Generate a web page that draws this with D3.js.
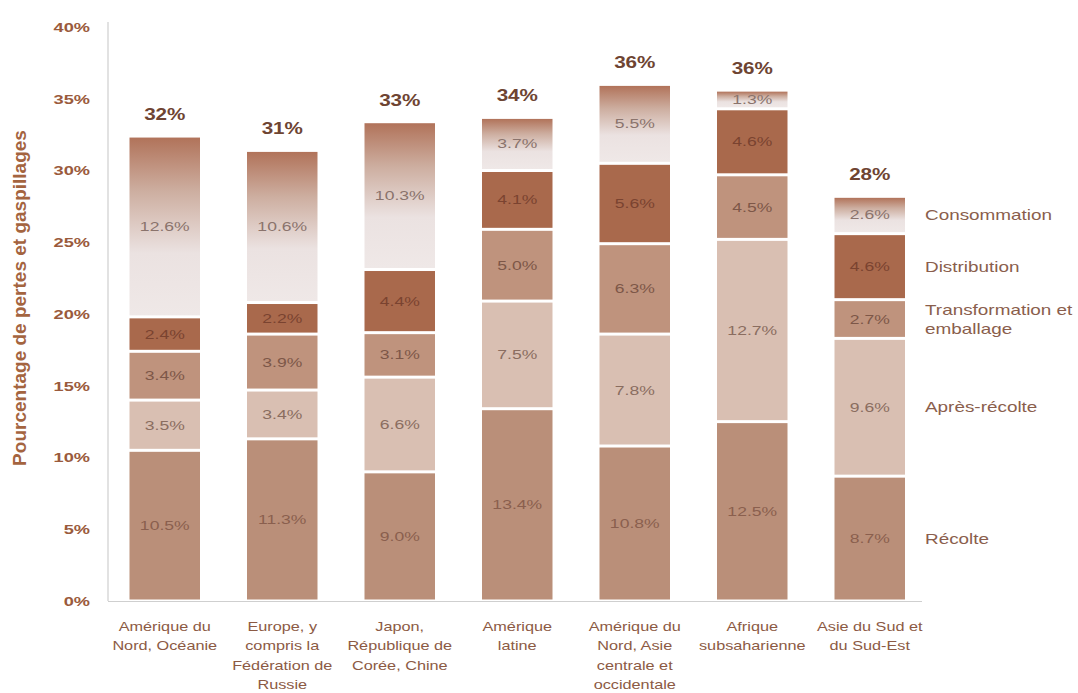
<!DOCTYPE html>
<html><head><meta charset="utf-8">
<script src="https://cdn.jsdelivr.net/npm/d3@7"></script>
<style>body{margin:0;background:#fff;}svg{display:block;font-family:"Liberation Sans",Arial,sans-serif;}</style>
</head><body><svg id="c" width="1078" height="693"></svg>
<script>
const categories = [
  ["Amérique du","Nord, Océanie"],
  ["Europe, y","compris la","Fédération de","Russie"],
  ["Japon,","République de","Corée, Chine"],
  ["Amérique","latine"],
  ["Amérique du","Nord, Asie","centrale et","occidentale"],
  ["Afrique","subsaharienne"],
  ["Asie du Sud et","du Sud-Est"]
];
const stages = ["Récolte","Après-récolte","Transformation et emballage","Distribution","Consommation"];
const stageLabels = [["Récolte"],["Après-récolte"],["Transformation et","emballage"],["Distribution"],["Consommation"]];
const recolte      = [10.5, 11.3, 9.0, 13.4, 10.8, 12.5, 8.7];
const apresRecolte = [3.5, 3.4, 6.6, 7.5, 7.8, 12.7, 9.6];
const transformation = [3.4, 3.9, 3.1, 5.0, 6.3, 4.5, 2.7];
const distribution = [2.4, 2.2, 4.4, 4.1, 5.6, 4.6, 4.6];
const consommation = [12.6, 10.6, 10.3, 3.7, 5.5, 1.3, 2.6];
const totals = ["32%","31%","33%","34%","36%","36%","28%"];
const yTicks = [0,5,10,15,20,25,30,35,40];

(function(){
const SX = 1.35; // horizontal stretch of the original picture's text
const series = [recolte, apresRecolte, transformation, distribution, consommation];
const rows = categories.map((c,i)=>{
  const r = {idx:i};
  stages.forEach((s,k)=> r[s]=series[k][i]);
  return r;
});
const stacked = d3.stack().keys(stages)(rows);

const svg = d3.select("#c");
const x = d3.scaleBand().domain(d3.range(categories.length)).range([106, 928.5]).paddingInner(0.4).paddingOuter(0.2);
const y = d3.scaleLinear().domain([0,40]).range([601, 27]);

const defs = svg.append("defs");
const grad = defs.append("linearGradient").attr("id","gcons").attr("x1",0).attr("y1",0).attr("x2",0).attr("y2",1);
[[0,"#b1735a"],[0.3,"#cdaea0"],[0.65,"#ebe2e1"],[1,"#efe8e7"]].forEach(s=>grad.append("stop").attr("offset",s[0]).attr("stop-color",s[1]));

const colors = {"Récolte":"#ba8f79","Après-récolte":"#d9bfb2","Transformation et emballage":"#bf937d","Distribution":"#a9694c","Consommation":"url(#gcons)"};
const txtColors = {"Récolte":"#8a5f4e","Après-récolte":"#8a6d60","Transformation et emballage":"#7d5748","Distribution":"#7a4330","Consommation":"#8a736c"};

svg.append("line").attr("x1",108).attr("x2",108).attr("y1",22).attr("y2",y(0)).attr("stroke","#cfcfcf").attr("stroke-width",1.2);
svg.append("line").attr("x1",108).attr("x2",922).attr("y1",y(0)+0.5).attr("y2",y(0)+0.5).attr("stroke","#cfcfcf").attr("stroke-width",1.2);

const yAxis = d3.axisLeft(y).tickValues(yTicks).tickFormat(d=>d+"%").tickSize(0).tickPadding(0);
const ga = svg.append("g").attr("transform","translate(90,0)").call(yAxis);
ga.select(".domain").remove();
ga.selectAll("text").attr("font-size",13.5).attr("font-weight","bold").attr("fill","#9a5a3c")
  .attr("font-family","'Liberation Sans',Arial,sans-serif").attr("transform",`scale(${SX},1)`);

svg.append("text").attr("transform","translate(26,298) rotate(-90)").attr("text-anchor","middle")
  .attr("font-size",19).attr("font-weight","bold").attr("fill","#a4643f").text("Pourcentage de pertes et gaspillages");

const gap = 1.5;
stacked.forEach(layer=>{
  const key = layer.key;
  const g = svg.append("g");
  g.selectAll("rect").data(layer).join("rect")
    .attr("x",(d,i)=>x(i)).attr("width",x.bandwidth())
    .attr("y",d=>y(d[1])+gap).attr("height",d=>Math.max(0,y(d[0])-y(d[1])-2*gap))
    .attr("fill",colors[key]);
  g.selectAll("text").data(layer).join("text")
    .attr("transform",(d,i)=>`translate(${x(i)+x.bandwidth()/2},${y((d[0]+d[1])/2)+4.5}) scale(${SX},1)`)
    .attr("text-anchor","middle").attr("font-size",13).attr("fill",txtColors[key])
    .text(d=>d3.format(".1f")(d[1]-d[0])+"%");
});

const topLayer = stacked[stacked.length-1];
svg.append("g").selectAll("text").data(topLayer).join("text")
  .attr("transform",(d,i)=>`translate(${x(i)+x.bandwidth()/2},${y(d[1])-16}) scale(1.25,1)`)
  .attr("text-anchor","middle").attr("font-size",16.5).attr("font-weight","bold").attr("fill","#6e4432")
  .text((d,i)=>totals[i]);

const xl = svg.append("g");
categories.forEach((lines,i)=>{
  const t = xl.append("text").attr("text-anchor","middle").attr("font-size",13).attr("fill","#8c5a44")
    .attr("transform",`translate(${x(i)+x.bandwidth()/2},0) scale(1.25,1)`);
  lines.forEach((l,j)=> t.append("tspan").attr("x",0).attr("y",631+j*19.3).text(l));
});

const last = categories.length-1;
const lg = svg.append("g");
stacked.forEach((layer,k)=>{
  const d = layer[last];
  const lines = stageLabels[k];
  const cy = y((d[0]+d[1])/2);
  const t = lg.append("text").attr("font-size",14).attr("fill","#8a5e4c")
    .attr("transform",`translate(925,0) scale(${SX},1)`);
  lines.forEach((l,j)=> t.append("tspan").attr("x",0).attr("y",cy+5+(j-(lines.length-1)/2)*19).text(l));
});
})();
</script></body></html>
